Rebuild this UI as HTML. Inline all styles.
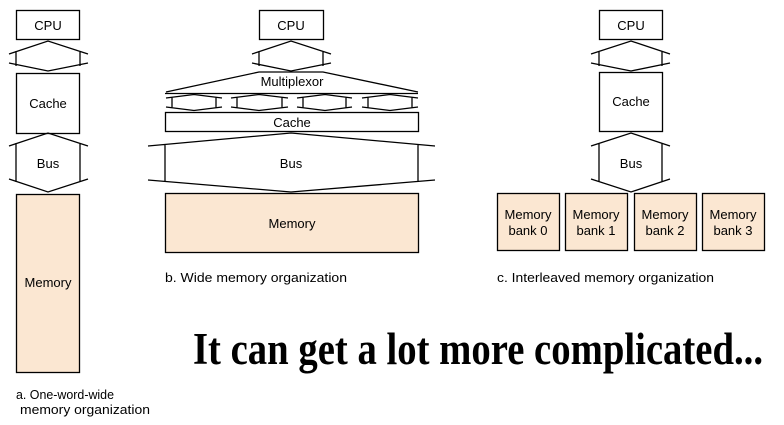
<!DOCTYPE html>
<html><head><meta charset="utf-8"><style>
html,body{margin:0;padding:0;background:#fff;width:784px;height:425px;overflow:hidden}
svg{display:block}
text{font-family:"Liberation Sans",Arial,sans-serif;fill:#000}
</style></head><body>
<svg width="784" height="425" viewBox="0 0 784 425" xmlns="http://www.w3.org/2000/svg">
<g fill="none" stroke="#000" stroke-width="1.3">
<!-- a -->
<rect x="16.5" y="10.5" width="63" height="29" fill="#fff"/>
<path d="M9,54 L48,41 L88,54 M9,63 L48,71 L88,63 M16,51 V66 M80,51 V66"/>
<rect x="16.5" y="73.5" width="63" height="60" fill="#fff"/>
<path d="M9,146 L48,133 L88,146 M9,179 L48,192 L88,179 M16,143 V182 M80,143 V182"/>
<rect x="16.5" y="194.5" width="63" height="178" fill="#fbe7d2"/>
<!-- b -->
<rect x="259.5" y="10.5" width="64" height="29" fill="#fff"/>
<path d="M252,54 L291,41 L331,54 M252,63 L291,71 L331,63 M259,51 V66 M323,51 V66"/>
<path d="M166,92 L259,72 L323,72 L418,92"/>
<line x1="165" y1="93.5" x2="418" y2="93.5"/>
<path d="M166,98 L194,94.5 L222,98 M166,107 L194,110.5 L222,107 M172,97 V108 M216,97 V108"/>
<path d="M231,98 L259,94.5 L288,98 M231,107 L259,110.5 L288,107 M237,97 V108 M282,97 V108"/>
<path d="M297,98 L325,94.5 L352,98 M297,107 L325,110.5 L352,107 M303,97 V108 M346,97 V108"/>
<path d="M362,98 L390,94.5 L418,98 M362,107 L390,110.5 L418,107 M368,97 V108 M412,97 V108"/>
<rect x="165.5" y="112.5" width="253" height="19" fill="#fff"/>
<path d="M148,146 L291,133 L435,146 M148,180 L291,192 L435,180 M165,144 V182 M418,144 V182"/>
<rect x="165.5" y="193.5" width="253" height="59" fill="#fbe7d2"/>
<!-- c -->
<rect x="599.5" y="10.5" width="63" height="29" fill="#fff"/>
<path d="M591,54 L631,41 L670,54 M591,63 L631,71 L670,63 M599,51 V66 M662,51 V66"/>
<rect x="599.5" y="72.5" width="63" height="59" fill="#fff"/>
<path d="M591,146 L631,133 L670,146 M591,179 L631,192 L670,179 M599,143 V182 M662,143 V182"/>
<rect x="497.5" y="193.5" width="62" height="57" fill="#fbe7d2"/>
<rect x="565.5" y="193.5" width="62" height="57" fill="#fbe7d2"/>
<rect x="634.5" y="193.5" width="62" height="57" fill="#fbe7d2"/>
<rect x="702.5" y="193.5" width="62" height="57" fill="#fbe7d2"/>
</g>
<g font-size="13" text-anchor="middle">
<text x="48" y="30">CPU</text>
<text x="48" y="108">Cache</text>
<text x="48" y="168">Bus</text>
<text x="48" y="287">Memory</text>
<text x="291" y="30">CPU</text>
<text x="292" y="86">Multiplexor</text>
<text x="292" y="127">Cache</text>
<text x="291" y="168">Bus</text>
<text x="292" y="228">Memory</text>
<text x="631" y="30">CPU</text>
<text x="631" y="106">Cache</text>
<text x="631" y="168">Bus</text>
<text x="528" y="219">Memory</text><text x="528" y="235">bank 0</text>
<text x="596" y="219">Memory</text><text x="596" y="235">bank 1</text>
<text x="665" y="219">Memory</text><text x="665" y="235">bank 2</text>
<text x="733" y="219">Memory</text><text x="733" y="235">bank 3</text>
</g>
<g font-size="13">
<text x="165" y="282" textLength="182" lengthAdjust="spacingAndGlyphs">b. Wide memory organization</text>
<text x="497" y="282" textLength="217" lengthAdjust="spacingAndGlyphs">c. Interleaved memory organization</text>
<text x="16" y="399" textLength="98" lengthAdjust="spacingAndGlyphs">a. One-word-wide</text>
<text x="20" y="414" textLength="130" lengthAdjust="spacingAndGlyphs">memory organization</text>
</g>
<text x="193" y="364" font-weight="bold" font-size="45" textLength="570" lengthAdjust="spacingAndGlyphs" style="font-family:'Liberation Serif',serif">It can get a lot more complicated...</text>
</svg>
</body></html>
